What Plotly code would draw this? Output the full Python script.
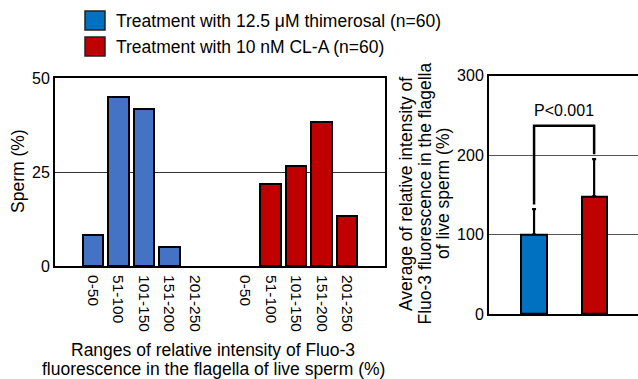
import plotly.graph_objects as go

# ---- data ----
ranges = ["0-50", "51-100", "101-150", "151-200", "201-250"]
thimerosal_pct = [8.3, 45.0, 41.7, 5.0, 0.0]
cla_pct = [0.0, 21.7, 26.7, 38.3, 13.3]
series_names = ["Treatment with 12.5 μM thimerosal (n=60)",
                "Treatment with 10 nM CL-A (n=60)"]
mean_intensity = [100, 148]
mean_err = [32, 47]
p_text = "P<0.001"
bracket_top = 237
left_yticks = [0, 25, 50]
right_yticks = [0, 100, 200, 300]
x_title_lines = ["Ranges of relative intensity of Fluo-3",
                 "fluorescence in the flagella of live sperm (%)"]
y2_title_lines = ["Average of relative intensity of",
                  "Fluo-3 fluorescence in the flagella",
                  "of live sperm (%)"]

BLUE_L = "#4472C4"
BLUE_R = "#0070C0"
RED = "#C00000"
FONT = "Liberation Sans, Arial, sans-serif"
W, H = 638, 379
TITLE_SIZE = 17.5
TICK_SIZE = 16
XTICK_SIZE = 15.5

def px_x(p):
    return p / W

def px_y(p):
    return 1 - p / H

def outline_widths(vals):
    return [0 if v == 0 else 2 for v in vals]

# positions: thimerosal group at 0..4, CL-A group at 6..10
pos_a = list(range(len(ranges)))
pos_b = [p + len(ranges) + 1 for p in pos_a]

fig = go.Figure()
fig.add_trace(go.Bar(x=pos_a, y=thimerosal_pct, width=0.81,
                     marker=dict(color=BLUE_L, line=dict(color="black", width=outline_widths(thimerosal_pct))),
                     name=series_names[0], showlegend=False, xaxis="x", yaxis="y"))
fig.add_trace(go.Bar(x=pos_b, y=cla_pct, width=0.81,
                     marker=dict(color=RED, line=dict(color="black", width=outline_widths(cla_pct))),
                     name=series_names[1], showlegend=False, xaxis="x", yaxis="y"))

fig.add_trace(go.Bar(x=[0, 1], y=mean_intensity, width=0.42,
                     marker=dict(color=[BLUE_R, RED], line=dict(color="black", width=2)),
                     error_y=dict(type="data", array=mean_err, arrayminus=[0, 0], symmetric=False,
                                  color="black", thickness=2.2, width=2),
                     showlegend=False, xaxis="x2", yaxis="y2"))

leg_gap = 6
fig.add_trace(go.Scatter(x=[0, 0, 1, 1],
                         y=[mean_intensity[0] + mean_err[0] + leg_gap, bracket_top, bracket_top,
                            mean_intensity[1] + mean_err[1] + leg_gap],
                         mode="lines", line=dict(color="black", width=2.5),
                         showlegend=False, hoverinfo="skip", xaxis="x2", yaxis="y2"))

tickfont = dict(family=FONT, size=TICK_SIZE, color="black")

fig.update_layout(
    width=W, height=H, margin=dict(l=0, r=0, t=0, b=0, autoexpand=False),
    paper_bgcolor="white", plot_bgcolor="white",
    font=dict(family=FONT, size=TITLE_SIZE, color="black"),
    bargap=0,
    xaxis=dict(domain=[px_x(55), px_x(385)], range=[-1.5, 11.5], automargin=False,
               tickmode="array", tickvals=pos_a + pos_b, ticktext=ranges + ranges,
               tickangle=90, tickfont=dict(family=FONT, size=XTICK_SIZE, color="black"),
               ticks="", ticklabelstandoff=4, showgrid=False,
               showline=True, linecolor="black", linewidth=2, mirror=True, zeroline=False),
    yaxis=dict(domain=[px_y(266), px_y(78)], range=[0, 50], tickvals=left_yticks, automargin=False,
               tickfont=tickfont, ticks="", showgrid=True, gridcolor="#333333", gridwidth=1,
               showline=True, linecolor="black", linewidth=2, mirror=True, zeroline=False),
    xaxis2=dict(domain=[px_x(489), 1], range=[-0.75, 1.73], anchor="y2", automargin=False,
                showticklabels=False, ticks="", showgrid=False,
                showline=True, linecolor="black", linewidth=2, mirror=True, zeroline=False),
    yaxis2=dict(domain=[px_y(314), px_y(75.7)], range=[0, 300], anchor="x2", tickvals=right_yticks,
                automargin=False,
                tickfont=tickfont, ticks="", showgrid=True, gridcolor="#555555", gridwidth=1,
                showline=True, linecolor="black", linewidth=2, mirror=False, zeroline=False),
)

# legend (manual)
legend_colors = [BLUE_R, RED]
legend_tops = [11, 37]
for name, col, top in zip(series_names, legend_colors, legend_tops):
    fig.add_shape(type="rect", xref="paper", yref="paper",
                  x0=px_x(85), x1=px_x(105), y0=px_y(top + 19), y1=px_y(top),
                  fillcolor=col, line=dict(color="#222222", width=1.5))
    fig.add_annotation(xref="paper", yref="paper", x=px_x(114), y=px_y(top + 10),
                       xanchor="left", yanchor="middle", showarrow=False, text=name,
                       font=dict(family=FONT, size=TITLE_SIZE, color="black"))

# axis titles
fig.add_annotation(xref="paper", yref="paper", x=px_x(18), y=px_y(171), textangle=-90,
                   xanchor="center", yanchor="middle",
                   showarrow=False, text="Sperm (%)", font=dict(family=FONT, size=TITLE_SIZE))
for i, line in enumerate(x_title_lines):
    fig.add_annotation(xref="paper", yref="paper", x=px_x(213), y=px_y(350 + 19 * i),
                       xanchor="center", yanchor="middle",
                       showarrow=False, text=line, font=dict(family=FONT, size=TITLE_SIZE))
for i, line in enumerate(y2_title_lines):
    fig.add_annotation(xref="paper", yref="paper", x=px_x(406 + 18.5 * i), y=px_y(194), textangle=-90,
                       xanchor="center", yanchor="middle",
                       showarrow=False, text=line, font=dict(family=FONT, size=TITLE_SIZE))
fig.add_annotation(xref="x2", yref="y2", x=0.5, y=bracket_top, xanchor="center", yanchor="bottom", yshift=5,
                   showarrow=False, text=p_text, font=dict(family=FONT, size=TICK_SIZE))

fig.write_html("out.html", config={"displayModeBar": False},
               post_script="document.body.style.margin='0px';document.body.style.padding='0px';")
